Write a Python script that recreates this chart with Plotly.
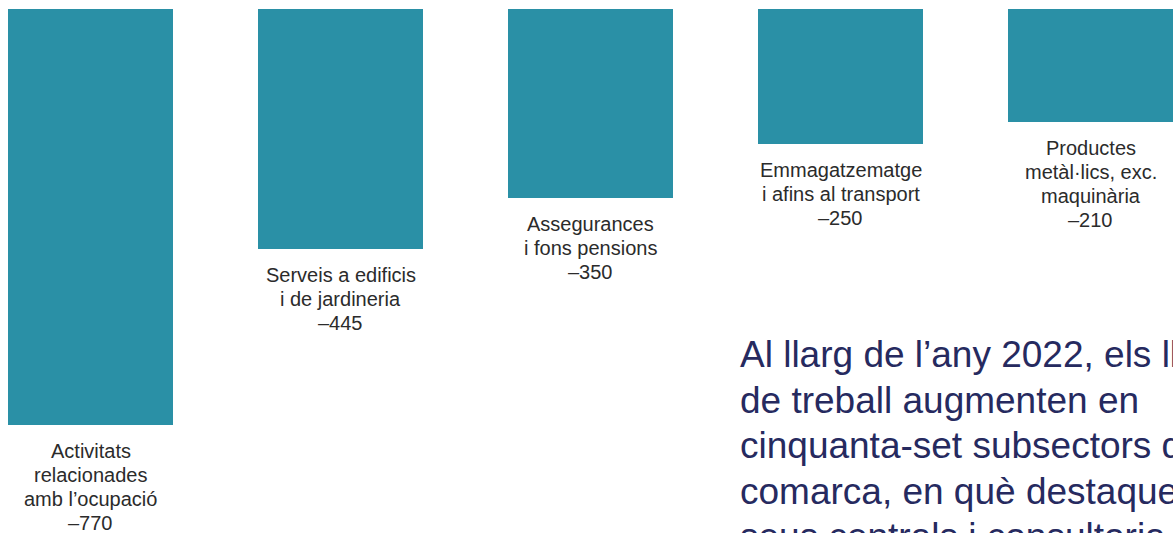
import plotly.graph_objects as go

categories = [
    ["Activitats", "relacionades", "amb l’ocupació"],
    ["Serveis a edificis", "i de jardineria"],
    ["Assegurances", "i fons pensions"],
    ["Emmagatzematge", "i afins al transport"],
    ["Productes", "metàl·lics, exc.", "maquinària"],
]
values = [-770, -445, -350, -250, -210]
value_labels = ["–770", "–445", "–350", "–250", "–210"]
body_lines = [
    "Al llarg de l’any 2022, els llocs",
    "de treball augmenten en",
    "cinquanta-set subsectors de la",
    "comarca, en què destaquen",
    "seus centrals i consultoria",
]

W, H = 1173, 533
BAR = "#2a90a6"
TXT = "#2b2b2b"
NAVY = "#262a5f"
FONT = "Liberation Sans, Arial, Helvetica, sans-serif"

xs = list(range(len(values)))

fig = go.Figure()
fig.add_trace(go.Bar(
    x=xs, y=values, width=0.66,
    marker=dict(color=BAR, line=dict(width=0)),
    hoverinfo="skip",
))

LINE = 24
for x, v, c, vl in zip(xs, values, categories, value_labels):
    lines = c + [vl]
    for i, t in enumerate(lines):
        fig.add_annotation(
            x=x, y=v, xref="x", yref="y",
            text=t,
            showarrow=False, xanchor="center", yanchor="middle",
            yshift=-(26 + LINE * i), align="center",
            font=dict(family=FONT, size=20, color=TXT),
        )

BIG_LINE = 45.5
for i, t in enumerate(body_lines):
    fig.add_annotation(
        x=738 / W, y=1 - (354.5 + BIG_LINE * i) / H, xref="paper", yref="paper",
        text=t,
        showarrow=False, xanchor="left", yanchor="middle", align="left",
        font=dict(family=FONT, size=37, color=NAVY),
    )

scale = 0.54
fig.update_layout(
    width=W, height=H, autosize=False,
    margin=dict(l=0, r=0, t=0, b=0),
    paper_bgcolor="white", plot_bgcolor="white",
    showlegend=False,
    xaxis=dict(range=[-0.362, -0.362 + W / 250], visible=False, fixedrange=True),
    yaxis=dict(range=[-(H - 9) / scale, 9 / scale], visible=False, fixedrange=True),
    bargap=0,
)

fig.write_html("out.html", config={"displayModeBar": False},
               post_script="document.body.style.margin='0';")
